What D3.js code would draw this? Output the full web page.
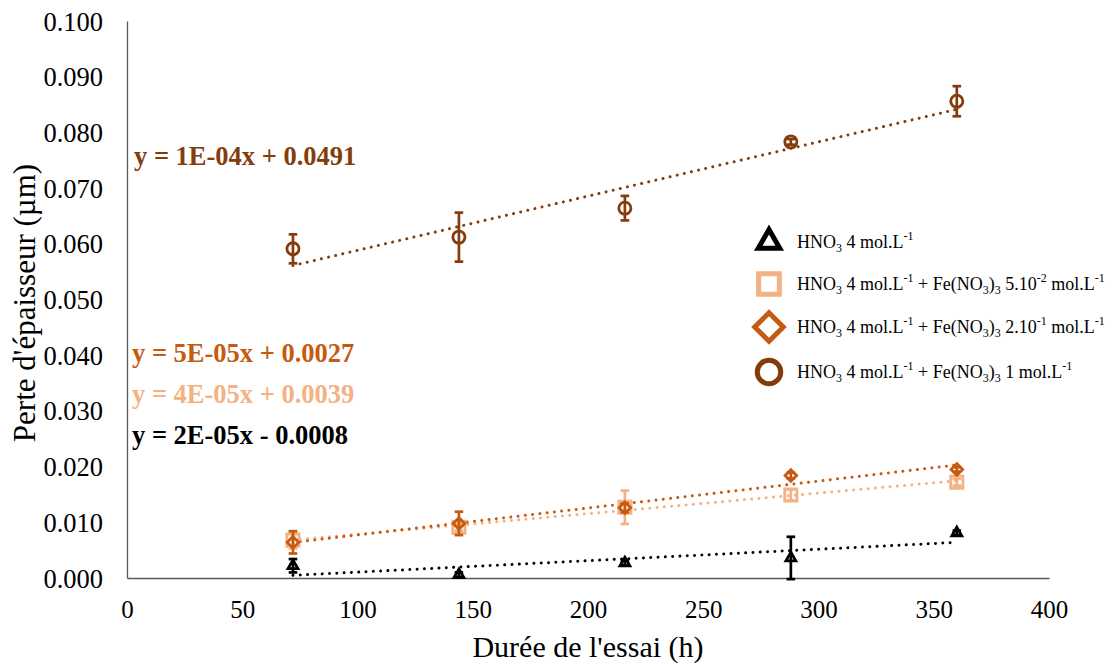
<!DOCTYPE html>
<html><head><meta charset="utf-8">
<script src="https://cdn.jsdelivr.net/npm/d3@7"></script>
<style>body{margin:0;background:#fff}svg{display:block}svg text{font-family:"Liberation Serif","Tinos","Times New Roman","DejaVu Serif",serif !important}</style>
</head><body><svg id="c" width="1115" height="664"></svg>
<script>
const hours = [72, 144, 216, 288, 360];
const valsHNO3 = [0.0022, 0.0006, 0.0027, 0.0036, 0.0081];
const errHNO3 = [0.0012, 0.0004, 0.0004, 0.0038, 0.0004];
const valsFe5e2 = [0.0068, 0.0091, 0.0127, 0.0149, 0.0172];
const errFe5e2 = [0.0015, 0.0006, 0.0030, 0.0010, 0.0006];
const valsFe2e1 = [0.0064, 0.0098, 0.0126, 0.0184, 0.0195];
const errFe2e1 = [0.0020, 0.0021, 0.0008, 0.0005, 0.0004];
const valsFe1 = [0.0591, 0.0612, 0.0664, 0.0783, 0.0856];
const errFe1 = [0.0026, 0.0044, 0.0022, 0.0005, 0.0027];
const equations = ["y = 2E-05x - 0.0008", "y = 4E-05x + 0.0039", "y = 5E-05x + 0.0027", "y = 1E-04x + 0.0491"];
const xTicks = [0, 50, 100, 150, 200, 250, 300, 350, 400];
const yTicks = [0, 0.01, 0.02, 0.03, 0.04, 0.05, 0.06, 0.07, 0.08, 0.09, 0.1];
const legendLabels = [
  [["HNO","n"],["3","sub"],[" 4 mol.L","n"],["-1","sup"]],
  [["HNO","n"],["3","sub"],[" 4 mol.L","n"],["-1","sup"],[" + Fe(NO","n"],["3","sub"],[")","n"],["3","sub"],[" 5.10","n"],["-2","sup"],[" mol.L","n"],["-1","sup"]],
  [["HNO","n"],["3","sub"],[" 4 mol.L","n"],["-1","sup"],[" + Fe(NO","n"],["3","sub"],[")","n"],["3","sub"],[" 2.10","n"],["-1","sup"],[" mol.L","n"],["-1","sup"]],
  [["HNO","n"],["3","sub"],[" 4 mol.L","n"],["-1","sup"],[" + Fe(NO","n"],["3","sub"],[")","n"],["3","sub"],[" 1 mol.L","n"],["-1","sup"]]
];
const allVals = [valsHNO3, valsFe5e2, valsFe2e1, valsFe1];
const allErr = [errHNO3, errFe5e2, errFe2e1, errFe1];

// styling / layout (not data)
const colors = ["#000000", "#F4B183", "#C55A11", "#843C0C"];
const symbols = ["triangle", "square", "diamond", "circle"];
const eqLayout = [[132, 443.5], [132, 403], [132, 361.5], [134, 165]];
const legRows = [242, 284, 327, 372];

const FONT = '"Liberation Serif","Tinos","Times New Roman","DejaVu Serif",serif';
const svg = d3.select("#c").style("font-family", FONT);
const x = d3.scaleLinear().domain([0, 400]).range([127, 1049]);
const y = d3.scaleLinear().domain([0, 0.1]).range([578, 21]);

const xAxis = svg.append("g").attr("transform", "translate(0,578)")
  .call(d3.axisBottom(x).tickValues(xTicks).tickSize(0).tickFormat(d3.format("d")));
xAxis.selectAll("text").attr("y", 40).attr("dy", 0).attr("font-size", 25);
const yAxis = svg.append("g").attr("transform", "translate(127,0)")
  .call(d3.axisLeft(y).tickValues(yTicks).tickSize(0).tickPadding(24).tickFormat(d3.format(".3f")));
yAxis.selectAll("text").attr("dy", "0.34em").attr("font-size", 26.5);
[xAxis, yAxis].forEach(a => {
  a.attr("font-family", null).style("font-family", FONT);
  a.select(".domain").attr("stroke", "#595959").attr("stroke-width", 1.3);
  a.selectAll("text").attr("fill", "#000").style("font-family", FONT);
});

svg.append("text").attr("x", 588).attr("y", 657).attr("text-anchor", "middle")
  .attr("font-size", 30).style("font-family", FONT).text("Durée de l'essai (h)");
svg.append("text").attr("transform", "translate(35,303) rotate(-90)").attr("text-anchor", "middle")
  .attr("font-size", 31).style("font-family", FONT).text("Perte d'épaisseur (µm)");

// linear trend lines (least squares)
allVals.forEach((vals, i) => {
  const mx = d3.mean(hours), my = d3.mean(vals);
  const sxy = d3.sum(hours, (h, k) => (h - mx) * (vals[k] - my));
  const sxx = d3.sum(hours, h => (h - mx) * (h - mx));
  const b = sxy / sxx, a = my - b * mx;
  svg.append("line")
    .attr("x1", x(hours[0])).attr("y1", y(a + b * hours[0]))
    .attr("x2", x(hours[hours.length - 1])).attr("y2", y(a + b * hours[hours.length - 1]))
    .attr("stroke", colors[i]).attr("stroke-width", 3).attr("stroke-linecap", "round")
    .attr("stroke-dasharray", "0.01 7.3");
});

const symMap = {triangle: d3.symbolTriangle2, square: d3.symbolSquare2, diamond: d3.symbolDiamond2, circle: d3.symbolCircle};
const symSize = {triangle: 70, square: 190, diamond: 85, circle: 115};
const legSize = {triangle: 330, square: 546, diamond: 520, circle: 434};

allVals.forEach((vals, i) => {
  const g = svg.append("g").attr("stroke", colors[i]).attr("fill", "none");
  vals.forEach((v, k) => {
    const e = allErr[i][k], cx = x(hours[k]);
    g.append("line").attr("x1", cx).attr("x2", cx).attr("y1", y(v - e)).attr("y2", y(v + e)).attr("stroke-width", 2.7);
    [v - e, v + e].forEach(t => g.append("line").attr("x1", cx - 4.3).attr("x2", cx + 4.3).attr("y1", y(t)).attr("y2", y(t)).attr("stroke-width", 2.7));
    g.append("path").attr("transform", `translate(${cx},${y(v)})`)
      .attr("d", d3.symbol().type(symMap[symbols[i]]).size(symSize[symbols[i]])())
      .attr("stroke-width", 2.8);
  });
});

equations.forEach((eq, i) => {
  svg.append("text").attr("x", eqLayout[i][0]).attr("y", eqLayout[i][1])
    .attr("font-size", 26.5).attr("font-weight", "bold").attr("fill", colors[i]).style("font-family", FONT).text(eq);
});

legendLabels.forEach((segs, i) => {
  const ly = legRows[i];
  svg.append("path").attr("transform", `translate(769,${ly})`)
    .attr("d", d3.symbol().type(symMap[symbols[i]]).size(legSize[symbols[i]])())
    .attr("fill", "none").attr("stroke", colors[i]).attr("stroke-width", 5);
  const t = svg.append("text").attr("x", 797).attr("y", ly + 5.5).attr("font-size", 18).attr("fill", "#000").style("font-family", FONT);
  let offset = 0;
  segs.forEach(([s, type]) => {
    const target = type === "sub" ? 4 : type === "sup" ? -7.5 : 0;
    const ts = t.append("tspan").text(s).attr("dy", target - offset);
    if (type !== "n") ts.attr("font-size", 12);
    offset = target;
  });
});
</script></body></html>
